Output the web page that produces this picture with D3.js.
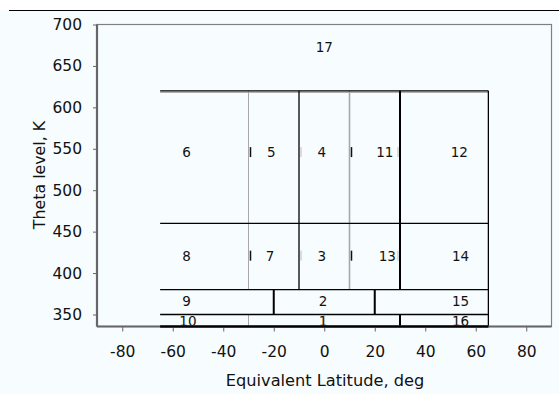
<!DOCTYPE html>
<html><head><meta charset="utf-8">
<script src="https://cdn.jsdelivr.net/npm/d3@7"></script>
<style>
html,body{margin:0;padding:0;background:#fff;}
svg{display:block;font-family:"DejaVu Sans",sans-serif;}
</style></head>
<body><svg id="c" width="559" height="394"></svg>
<script>
// Axis settings
const xTicks = [-80, -60, -40, -20, 0, 20, 40, 60, 80];
const yTicks = [350, 400, 450, 500, 550, 600, 650, 700];
const xDomain = [-90, 90];
const yDomain = [335.5, 700];

// Region boundaries: horizontal lines [theta, latFrom, latTo, kind]
const hLines = [
  [620, -65, 65, "black"],
  [460, -65, 65, "black"],
  [380, -65, 65, "black"],
  [350, -65, 65, "black"],
  [335.5, -65, 65, "thick"]
];
// Vertical lines [lat, thetaFrom, thetaTo, kind]
const vLines = [
  [-30, 380, 620, "gray"],
  [-10, 380, 620, "black"],
  [10, 380, 620, "gray2"],
  [30, 380, 620, "thick"],
  [65, 335.5, 620, "black"],
  [-20, 350, 380, "thick"],
  [20, 350, 380, "thick"],
  [-30, 335.5, 350, "gray"],
  [0, 335.5, 350, "light"],
  [30, 335.5, 350, "thick"]
];
// Region labels [id, lat, theta]
const regionIds = ["17","6","5","4","11","12","8","7","3","13","14","9","2","15","10","1","16"];
const regionLat = [0, -54.5, -21, -1, 24, 53.5, -54.5, -21.5, -1, 25, 54, -54.5, -0.5, 54, -54, -0.5, 54];
const regionTheta = [673, 546, 546, 546, 546, 546, 421, 421, 421, 421, 421, 366, 366, 366, 342, 342, 342];
// Small marks beside labels [lat, theta, kind]
const marks = [
  [-30, 546, "dark"], [-10, 546, "pale"], [10, 546, "dark"], [30, 546, "pale"],
  [-30, 421, "dark"], [-10, 421, "pale"], [10, 421, "dark"], [30, 421, "pale"]
];

const svg = d3.select("#c");
const W = 559, H = 394;
const m = {left: 97, right: 7.5, top: 24.5, bottom: 67.5};

svg.append("rect").attr("x", 0).attr("y", 10).attr("width", W).attr("height", H - 10).attr("fill", "#f7fcfe");
svg.append("line").attr("x1", 9).attr("x2", W).attr("y1", 10.5).attr("y2", 10.5).attr("stroke", "#000").attr("stroke-width", 1);

const x = d3.scaleLinear().domain(xDomain).range([m.left, W - m.right]);
const y = d3.scaleLinear().domain(yDomain).range([H - m.bottom, m.top]);

// plot frame (top/right)
svg.append("rect").attr("x", x(xDomain[0])).attr("y", y(yDomain[1]))
  .attr("width", x(xDomain[1]) - x(xDomain[0])).attr("height", y(yDomain[0]) - y(yDomain[1]))
  .attr("fill", "none").attr("stroke", "#808080").attr("stroke-width", 1.2);

const styles = {
  black: {c: "#000", w: 1.3},
  thick: {c: "#000", w: 2},
  gray: {c: "#a8a8a8", w: 1},
  gray2: {c: "#a8a8a8", w: 1.6},
  light: {c: "#c8c8c8", w: 1}
};

// gray shadow under the top line
svg.append("line").attr("x1", x(-65)).attr("x2", x(65)).attr("y1", y(620) + 1.5).attr("y2", y(620) + 1.5)
  .attr("stroke", "#9a9a9a").attr("stroke-width", 1);

svg.selectAll(".v").data(vLines).join("line")
  .attr("x1", d => x(d[0])).attr("x2", d => x(d[0]))
  .attr("y1", d => y(d[1])).attr("y2", d => y(d[2]))
  .attr("stroke", d => styles[d[3]].c).attr("stroke-width", d => styles[d[3]].w);

svg.selectAll(".h").data(hLines).join("line")
  .attr("x1", d => x(d[1])).attr("x2", d => x(d[2]))
  .attr("y1", d => y(d[0])).attr("y2", d => y(d[0]))
  .attr("stroke", d => styles[d[3]].c).attr("stroke-width", d => styles[d[3]].w);

svg.selectAll(".mk").data(marks).join("line")
  .attr("x1", d => x(d[0]) + (d[2] === "dark" ? 2 : (d[0] > 20 ? -2 : 2)))
  .attr("x2", d => x(d[0]) + (d[2] === "dark" ? 2 : (d[0] > 20 ? -2 : 2)))
  .attr("y1", d => y(d[1]) - 5).attr("y2", d => y(d[1]) + 5)
  .attr("stroke", d => d[2] === "dark" ? "#111" : "#bbb")
  .attr("stroke-width", d => d[2] === "dark" ? 1.5 : 1);

svg.selectAll(".lbl").data(regionIds).join("text")
  .attr("x", (d, i) => x(regionLat[i])).attr("y", (d, i) => y(regionTheta[i]))
  .attr("text-anchor", "middle").attr("dy", "0.36em")
  .attr("font-size", 13.5).attr("fill", "#111").text(d => d);

const fmt = d => String(d);
// axes
const xAxis = svg.append("g").attr("transform", `translate(0,${y(yDomain[0])})`)
  .call(d3.axisBottom(x).tickValues(xTicks).tickSize(5).tickPadding(14).tickFormat(fmt));
const yAxis = svg.append("g").attr("transform", `translate(${x(xDomain[0])},0)`)
  .call(d3.axisLeft(y).tickValues(yTicks).tickSize(4).tickPadding(11).tickFormat(fmt));
[xAxis, yAxis].forEach(g => {
  g.attr("font-family", "'DejaVu Sans',sans-serif");
  g.select(".domain").attr("stroke", "#666").attr("stroke-width", 2.2);
  g.selectAll(".tick line").attr("stroke", "#666").attr("stroke-width", 1);
  g.selectAll(".tick text").attr("font-size", 15.5).attr("fill", "#111");
});
xAxis.select(".domain").attr("d", `M${x(xDomain[0])},0H${x(xDomain[1])}`);
yAxis.select(".domain").attr("d", `M0,${y(yDomain[1])}V${y(yDomain[0])}`);
// black overlay where boxes touch axis
svg.append("line").attr("x1", x(-65)).attr("x2", x(65)).attr("y1", y(yDomain[0])).attr("y2", y(yDomain[0]))
  .attr("stroke", "#000").attr("stroke-width", 2.2);

svg.append("text").attr("x", 325).attr("y", 386).attr("text-anchor", "middle")
  .attr("font-size", 16.2).attr("fill", "#111").text("Equivalent Latitude, deg");
svg.append("text").attr("transform", "translate(45,175) rotate(-90)").attr("text-anchor", "middle")
  .attr("font-size", 15.8).attr("fill", "#111").text("Theta level, K");
</script></body></html>
